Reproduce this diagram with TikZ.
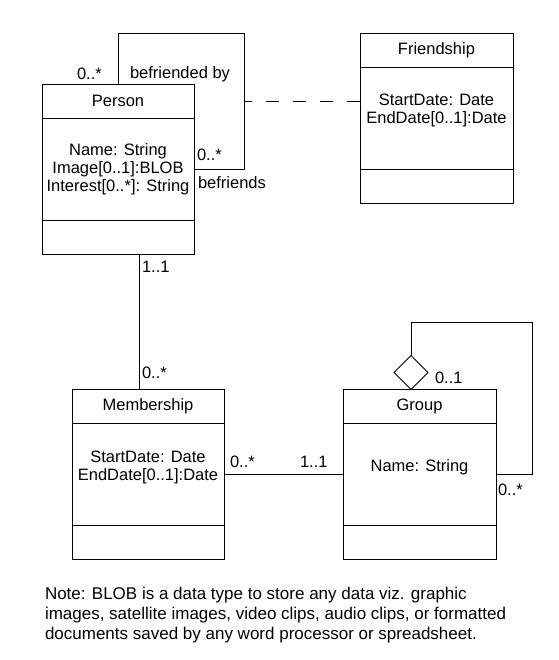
\documentclass[tikz,border=0pt]{standalone}
\usepackage{fontspec}
\setmainfont{Liberation Sans}
\usetikzlibrary{positioning,shapes.geometric}

\tikzset{
  every node/.style={font=\fontsize{16.5}{18}\selectfont, inner sep=0pt, outer sep=0pt},
  classhead/.style={draw, minimum width=152pt, minimum height=34pt},
  classattr/.style={draw, minimum width=152pt, minimum height=102pt, align=center},
  classops/.style={draw, minimum width=152pt, minimum height=34pt},
  mult/.style={anchor=west},
}

\begin{document}
\begin{tikzpicture}[x=1pt,y=-1pt,line width=0.9pt]
        \useasboundingbox (0,0) rectangle (558,660);
        % classes
        \node[classhead, anchor=north west] (person) at (42,84) {Person};
        \node[classattr, below=0pt of person] (personattr) {Name: String\\Image[0..1]:BLOB\\Interest[0..*]: String};
        \node[classops, below=0pt of personattr] (personops) {};
        \node[classhead, anchor=north west, minimum width=153pt] (friend) at (360,33) {Friendship};
        \node[classattr, below=0pt of friend, minimum width=153pt] (friendattr) {StartDate: Date\\EndDate[0..1]:Date\\ \mbox{}};
        \node[classops, below=0pt of friendattr, minimum width=153pt] (friendops) {};
        \node[classhead, anchor=north west] (member) at (72,389.5) {Membership};
        \node[classattr, below=0pt of member] (memberattr) {StartDate: Date\\EndDate[0..1]:Date\\ \mbox{}};
        \node[classops, below=0pt of memberattr] (memberops) {};
        \node[classhead, anchor=north west, minimum width=153pt] (group) at (343,389.5) {Group};
        \node[classattr, below=0pt of group, minimum width=153pt] (groupattr) {Name: String\\ \mbox{}};
        \node[classops, below=0pt of groupattr, minimum width=153pt] (groupops) {};
        % befriends
        \coordinate (loopl) at (118,33);
        \coordinate (loopr) at (244,33);
        \draw (person.north -| loopl) |- (loopr) |- (personattr.east);
        \coordinate (fassoc) at (244,101);
        \draw[dash pattern=on 13pt off 14pt, dash phase=5pt] (fassoc) -- (fassoc -| friendattr.west);
        \node[mult] (m1) at (77,74) {0..*};
        \node[mult] (r1) at (130,74) {befriended by};
        \node[mult] (m2) at (197,155) {0..*};
        \node[mult] (r2) at (198,183) {befriends};
        % membership
        \coordinate (pmline) at (139,0);
        \draw (pmline |- personops.south) -- (pmline |- member.north);
        \node[mult] (m3) at (142,267) {1..1};
        \node[mult] (m4) at (142,373) {0..*};
        \draw (memberattr.east) -- (groupattr.west);
        \node[mult] (m5) at (230,462) {0..*};
        \node[mult] (m6) at (300,462) {1..1};
        % subgroups
        \node[draw, diamond, aspect=1, minimum width=34pt, minimum height=34pt, anchor=south] (agg) at (411,389.5) {};
        \coordinate (gloop) at (532,322);
        \draw (agg.north) |- (gloop) |- (groupattr.east);
        \node[mult] (m7) at (435,378) {0..1};
        \node[mult] (m8) at (498,490) {0..*};
        % note
        \node[anchor=north west, align=left, font=\fontsize{17}{20}\selectfont] (note) at (45,587) {Note: BLOB is a data type to store any data viz. graphic\\images, satellite images, video clips, audio clips, or formatted\\documents saved by any word processor or spreadsheet.};
\end{tikzpicture}
\end{document}
